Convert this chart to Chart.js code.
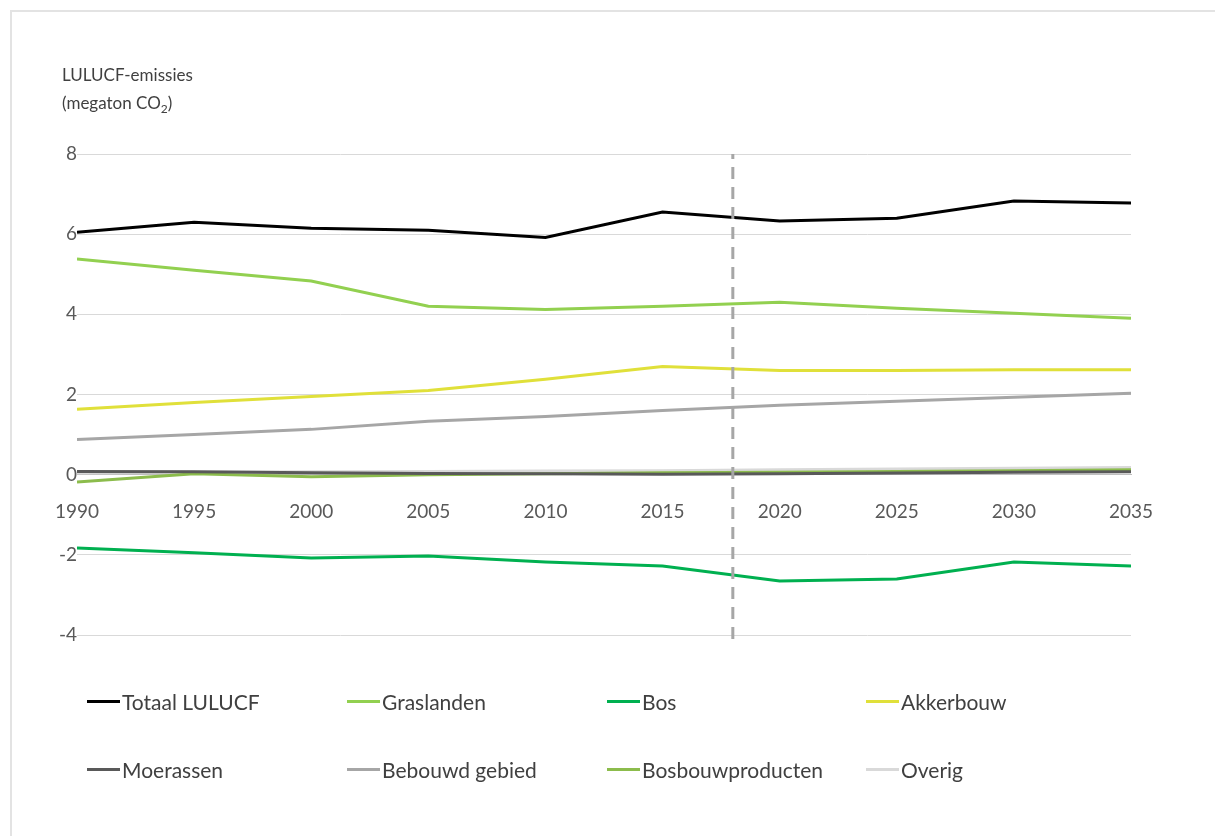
<!DOCTYPE html>
<html>
<head>
<meta charset="utf-8">
<script src="https://cdn.jsdelivr.net/npm/chart.js@4"></script>
<style>
  body { margin: 0; background: #fff; font-family: Lato, "Open Sans", sans-serif; color: #404040; }
  #wrap { position: relative; width: 1215px; height: 836px; overflow: hidden; }
  #frame { position: absolute; left: 10px; top: 10px; width: 1300px; height: 900px; border-left: 2px solid #e3e3e3; border-top: 2px solid #e3e3e3; }
  #chart { position: absolute; left: 0; top: 0; }
  .title { position: absolute; left: 62px; font-size: 17px; color: #404040; line-height: 1; }
  .legend-item { position: absolute; font-size: 21px; color: #404040; display: flex; align-items: center; white-space: nowrap; }
  .legend-item span.swatch { display: inline-block; width: 33px; height: 3px; margin-right: 2px; }
</style>
</head>
<body>
<div id="wrap">
  <div id="frame"></div>
  <canvas id="chart" width="1215" height="836"></canvas>
  <div class="title" style="top:66px">LULUCF-emissies</div>
  <div class="title" style="top:94px">(megaton CO<sub style="font-size:12px">2</sub>)</div>
  <div id="legend"></div>
</div>
<script>
// jaren en reeksen (megaton CO2)
const jaren = [1990, 1995, 2000, 2005, 2010, 2015, 2020, 2025, 2030, 2035]

const totaal = [6.05, 6.3, 6.15, 6.1, 5.92, 6.55, 6.33, 6.4, 6.83, 6.78]
const graslanden = [5.38, 5.1, 4.83, 4.2, 4.12, 4.2, 4.3, 4.15, 4.03, 3.9]
const bos = [-1.83, -1.95, -2.08, -2.03, -2.18, -2.28, -2.65, -2.6, -2.18, -2.28]
const akkerbouw = [1.63, 1.8, 1.95, 2.1, 2.38, 2.7, 2.6, 2.6, 2.62, 2.62]
const moerassen = [0.08, 0.07, 0.05, 0.03, 0.02, 0.01, 0.02, 0.04, 0.06, 0.07]
const bebouwd = [0.88, 1.0, 1.13, 1.33, 1.45, 1.6, 1.73, 1.83, 1.93, 2.03]
const bosbouwproducten = [-0.18, 0.02, -0.05, 0.0, 0.02, 0.05, 0.06, 0.08, 0.1, 0.12]
const overig = [0.05, 0.06, 0.07, 0.08, 0.09, 0.1, 0.12, 0.14, 0.16, 0.18]

// scheiding historie / projectie
const scheidingsJaar = 2018

const yTicks = [-4, -2, 0, 2, 4, 6, 8]

const series = [
    { label: "Totaal LULUCF", data: totaal, color: "#000000" },
    { label: "Graslanden", data: graslanden, color: "#92d050" },
    { label: "Bos", data: bos, color: "#00b050" },
    { label: "Akkerbouw", data: akkerbouw, color: "#e0e03a" },
    { label: "Moerassen", data: moerassen, color: "#595959" },
    { label: "Bebouwd gebied", data: bebouwd, color: "#a6a6a6" },
    { label: "Bosbouwproducten", data: bosbouwproducten, color: "#8cbc4c" },
    { label: "Overig", data: overig, color: "#d9d9d9" },
]

// teken volgorde: lichte lijnen eerst
const drawOrder = ["Overig", "Bosbouwproducten", "Moerassen", "Bebouwd gebied", "Akkerbouw", "Bos", "Graslanden", "Totaal LULUCF"]

const datasets = series.map(s => ({
    label: s.label,
    data: s.data.map((v, i) => ({ x: jaren[i], y: v })),
    borderColor: s.color,
    backgroundColor: s.color,
    borderWidth: 3,
    pointRadius: 0,
    tension: 0,
    order: drawOrder.length - drawOrder.indexOf(s.label)
}))

datasets.push({
    label: "scheiding",
    data: [{ x: scheidingsJaar, y: yTicks[0] - 0.1 }, { x: scheidingsJaar, y: yTicks[yTicks.length - 1] }],
    borderColor: "#a6a6a6",
    borderWidth: 3,
    borderDash: [12, 8],
    pointRadius: 0,
    clip: false,
    order: 0
})

const tickFont = { family: "Lato, 'Open Sans', sans-serif", size: 19 }

new Chart(document.getElementById("chart").getContext("2d"), {
    type: "line",
    data: { datasets },
    options: {
        responsive: false,
        animation: false,
        layout: { padding: { top: 154, right: 84, bottom: 201, left: 0 } },
        plugins: { legend: { display: false }, tooltip: { enabled: false } },
        scales: {
            x: {
                type: "linear",
                position: { y: 0 },
                min: jaren[0],
                max: jaren[jaren.length - 1],
                afterBuildTicks: scale => { scale.ticks = jaren.map(v => ({ value: v })) },
                ticks: { callback: v => String(v), color: "#595959", font: tickFont, padding: 18, maxRotation: 0 },
                grid: { display: false },
                border: { display: true, color: "#bfbfbf", width: 1 }
            },
            y: {
                min: yTicks[0],
                max: yTicks[yTicks.length - 1],
                afterBuildTicks: scale => { scale.ticks = yTicks.map(v => ({ value: v })) },
                afterFit: scale => { scale.width = 77 },
                ticks: { color: "#595959", font: tickFont, padding: 0 },
                grid: { color: "#d9d9d9", lineWidth: 1, drawTicks: false },
                border: { display: false }
            }
        }
    }
})

// legenda in 2 rijen, 4 kolommen
const legendCols = [87, 347, 607, 866]
const legendRows = [701, 769]
const legend = document.getElementById("legend")
series.forEach((s, i) => {
    const el = document.createElement("div")
    el.className = "legend-item"
    el.style.left = legendCols[i % 4] + "px"
    el.style.top = (legendRows[Math.floor(i / 4)] - 12) + "px"
    el.style.height = "24px"
    el.innerHTML = `<span class="swatch" style="background:${s.color}"></span>${s.label}`
    legend.appendChild(el)
})
</script>
</body>
</html>
